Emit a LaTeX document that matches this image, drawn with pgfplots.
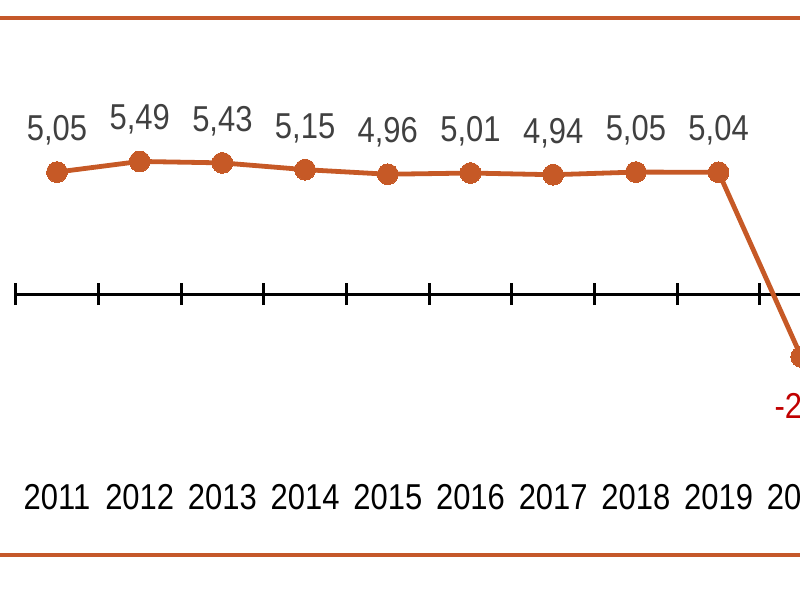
\documentclass[border=0pt]{standalone}
\usepackage{pgfplots}
\pgfplotsset{compat=1.18}
\usepackage{fontspec}
\setmainfont{Liberation Sans}[FakeStretch=0.86]
\definecolor{lineor}{RGB}{198,89,38}
\definecolor{frameor}{RGB}{197,88,42}
\definecolor{lblgray}{RGB}{64,64,64}
\definecolor{negred}{RGB}{192,0,0}
\begin{document}
\begin{tikzpicture}
\useasboundingbox (0,0) rectangle (400pt,300pt);
\clip (0,0) rectangle (400pt,300pt);
\draw[frameor, line width=1.75pt] (0,291pt) -- (400pt,291pt);
\draw[frameor, line width=1.75pt] (0,22.5pt) -- (400pt,22.5pt);
\begin{axis}[
  scale only axis,
  width=413.5pt, height=289.92pt,
  at={(7.825pt,8pt)}, anchor=south west,
  xmin=-0.5, xmax=9.5, ymin=-12, ymax=12,
  axis x line=middle, axis y line=none,
  x axis line style={-, black, line width=1.5pt},
  xtick={-0.5,0.5,1.5,2.5,3.5,4.5,5.5,6.5,7.5,8.5,9.5},
  xticklabels={},
  tick align=center,
  major tick length=11pt,
  tick style={black, line width=1.5pt},
  extra x ticks={0,1,2,3,4,5,6,7,8,9},
  extra x tick labels={2011,2012,2013,2014,2015,2016,2017,2018,2019,2020},
  extra x tick style={major tick length=0pt,
    tick label style={anchor=base, yshift=-107.5pt, font=\fontsize{18}{20}\selectfont, text=black}},
  clip=false,
]
\addplot[lineor, line width=2.4pt, mark=*, mark size=5.2pt, mark options={fill=lineor, draw=lineor, line width=0pt}]
  coordinates {(0,5.05) (1,5.49) (2,5.43) (3,5.15) (4,4.96) (5,5.01) (6,4.94) (7,5.05) (8,5.04) (9,-2.6)};
\addplot[draw=none, no marks, nodes near coords, point meta=explicit symbolic,
  every node near coord/.append style={anchor=base, yshift=15.8pt, text=lblgray, font=\fontsize{18}{20}\selectfont}]
  coordinates {(0,5.05)[5,05] (1,5.49)[5,49] (2,5.43)[5,43] (3,5.15)[5,15] (4,4.96)[4,96] (5,5.01)[5,01] (6,4.94)[4,94] (7,5.05)[5,05] (8,5.04)[5,04]};
\addplot[draw=none, no marks, nodes near coords, point meta=explicit symbolic,
  every node near coord/.append style={anchor=base, yshift=-31pt, text=negred, font=\fontsize{18}{20}\selectfont}]
  coordinates {(9,-2.6)[-2,6]};
\end{axis}
\end{tikzpicture}
\end{document}
